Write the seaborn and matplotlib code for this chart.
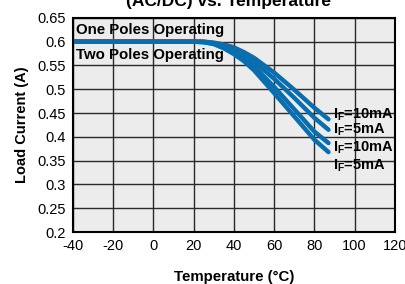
import matplotlib
matplotlib.use("Agg")
import matplotlib.pyplot as plt
import pandas as pd
import seaborn as sns

# === data ===
temps = [-40, 20, 25, 30, 35, 40, 45, 50, 60, 70, 80, 87]
one_pole_10ma = [0.6, 0.6, 0.6, 0.598, 0.594, 0.588, 0.578, 0.566, 0.535, 0.499, 0.461, 0.437]
one_pole_5ma = [0.6, 0.6, 0.6, 0.597, 0.592, 0.584, 0.572, 0.558, 0.522, 0.482, 0.440, 0.415]
two_pole_10ma = [0.6, 0.6, 0.599, 0.596, 0.589, 0.579, 0.565, 0.548, 0.505, 0.458, 0.411, 0.387]
two_pole_5ma = [0.6, 0.6, 0.599, 0.595, 0.586, 0.574, 0.559, 0.540, 0.492, 0.443, 0.394, 0.368]
curve_labels = ["10mA", "5mA", "10mA", "5mA"]
label_y = [0.446, 0.416, 0.378, 0.339]
x_ticks = [-40, -20, 0, 20, 40, 60, 80, 100, 120]
y_ticks = [0.2, 0.25, 0.3, 0.35, 0.4, 0.45, 0.5, 0.55, 0.6, 0.65]

series = {"c1": one_pole_10ma, "c2": one_pole_5ma, "c3": two_pole_10ma, "c4": two_pole_5ma}
df = pd.concat(
    [pd.DataFrame({"Temp": temps, "Current": v, "curve": k}) for k, v in series.items()],
    ignore_index=True,
)

sns.set_theme(style="white")
plt.rcParams["font.family"] = ["Liberation Sans", "DejaVu Sans"]
plt.rcParams["text.color"] = "black"
plt.rcParams["axes.labelcolor"] = "black"
plt.rcParams["mathtext.fontset"] = "custom"
plt.rcParams["mathtext.rm"] = "Liberation Sans:bold"
plt.rcParams["mathtext.bf"] = "Liberation Sans:bold"

fig = plt.figure(figsize=(4.05, 2.84), dpi=100)
ax = fig.add_axes([0.180, 0.183, 0.795, 0.754])
ax.set_facecolor("#ececec")

blue = "#0a6eae"
sns.lineplot(data=df, x="Temp", y="Current", hue="curve",
             palette=[blue] * 4, linewidth=3.2, legend=False, ax=ax)

ax.set_xlim(-40, 120)
ax.set_ylim(0.2, 0.65)
ax.set_xticks(x_ticks)
ax.set_xticklabels([str(t) for t in x_ticks])
ax.set_yticks(y_ticks)
ax.set_yticklabels([f"{v:g}" for v in y_ticks])
ax.tick_params(axis="both", length=0, labelsize=10.5, colors="black", pad=5)
ax.grid(True, color="#2a2a2a", linewidth=1)
ax.set_axisbelow(True)
for s in ax.spines.values():
    s.set_color("black")
    s.set_linewidth(1.5)

# 區域標示
ax.text(-38.5, 0.625, "One Poles Operating", fontsize=10.8, fontweight="bold", va="center")
ax.text(-38.5, 0.572, "Two Poles Operating", fontsize=10.8, fontweight="bold", va="center")
for lab, yy in zip(curve_labels, label_y):
    ax.text(89.5, yy, r"I$_{\mathrm{F}}$=" + lab, fontsize=10.5, fontweight="bold", va="center")

ax.set_xlabel("Temperature (°C)", fontsize=10.8, fontweight="bold", labelpad=12)
ax.set_ylabel("Load Current (A)", fontsize=10.5, fontweight="bold", labelpad=6)

# title is cut at the top edge, as in the source
fig.text(0.563, 1 - 6 / 284, "(AC/DC) vs. Temperature", fontsize=12.5,
         fontweight="bold", ha="center", va="baseline")

fig.savefig("out.png", dpi=100)
